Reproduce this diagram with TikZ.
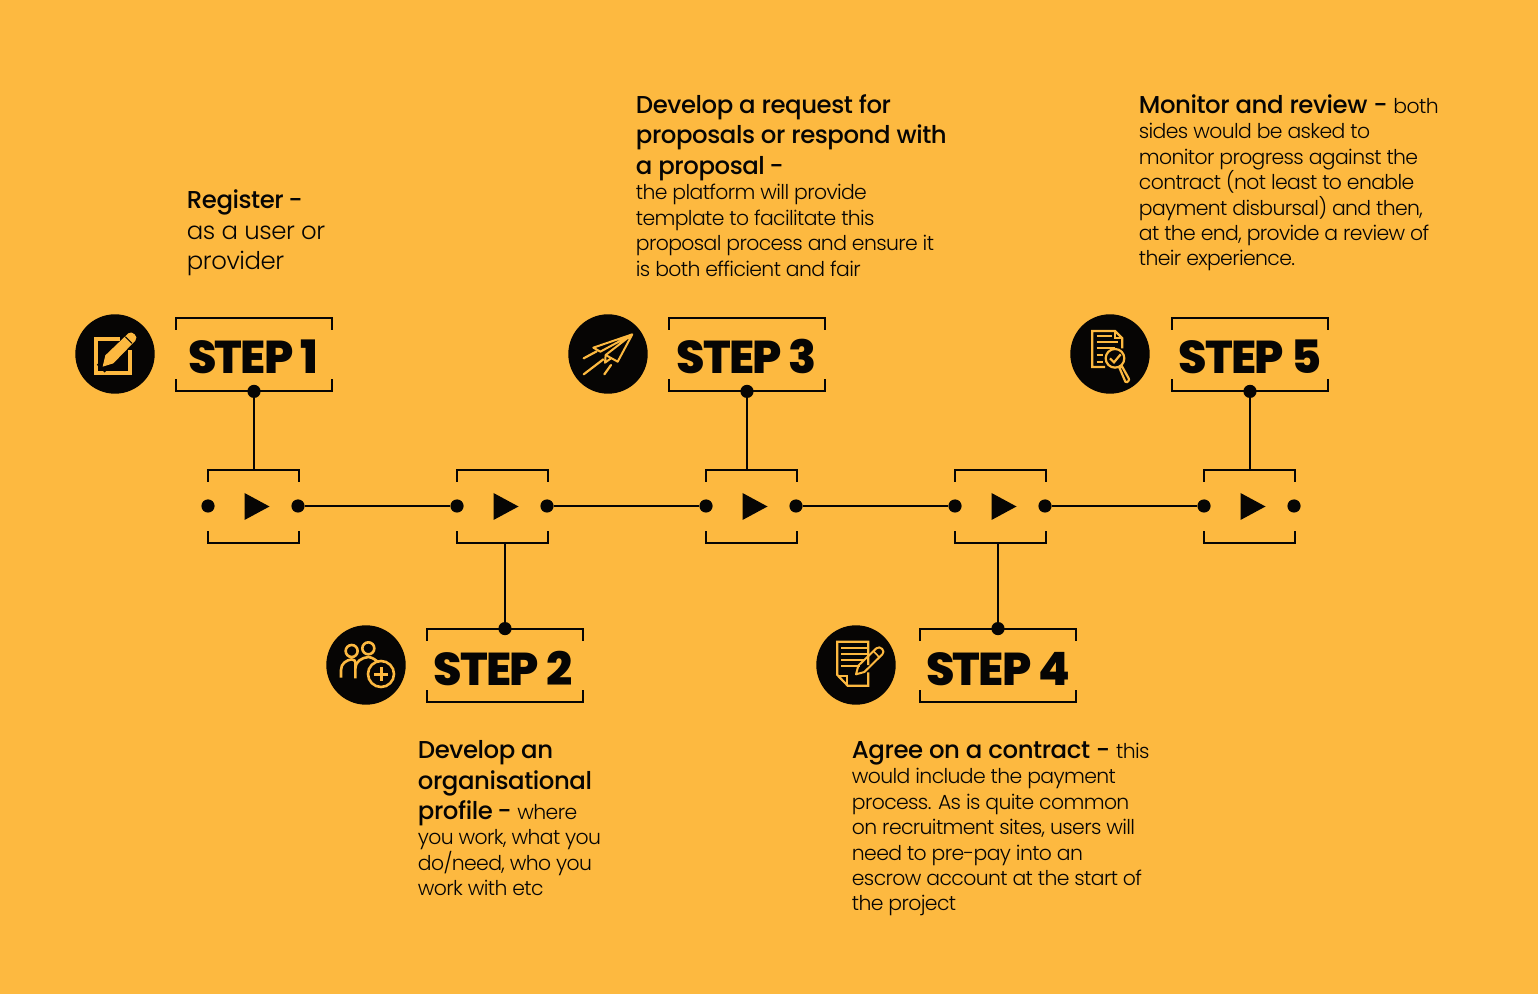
\documentclass[tikz,border=0pt]{standalone}
\usepackage{fontspec}
\setmainfont{Poppins}
\newfontfamily\plight[LetterSpace=-3.1]{Poppins Light}
\newfontfamily\plightb[LetterSpace=-1.8]{Poppins Light}
\newfontfamily\pmedium[LetterSpace=-1.8]{Poppins Medium}
\newfontfamily\pblack[LetterSpace=-4]{Poppins ExtraBold}
\definecolor{bgc}{HTML}{FDB940}
\definecolor{ink}{HTML}{060504}
\newcommand\hd{\pmedium\fontsize{12.2pt}{15.25pt}\selectfont}
\newcommand\bd{\plight\fontsize{10.2pt}{12.7pt}\selectfont}
\newcommand\bg{\plightb\fontsize{12.2pt}{15.25pt}\selectfont}
\newcommand\dsh{\kern-0.7pt-}
\newcommand\blk[1]{\vtop{\hsize=190pt\parindent=0pt\lineskiplimit=-20pt\lineskip=0pt\parskip=0pt #1}}
\tikzset{
  line/.style={draw=ink,line width=1pt},
  dotn/.style={circle,fill=ink,inner sep=0pt,minimum size=6.6pt},
  disc/.style={circle,fill=ink,inner sep=0pt,minimum size=39.7pt},
  txt/.style={anchor=base west,inner sep=0pt,text=ink},
  steplabel/.style={anchor=base,inner sep=0pt,text=ink,font=\pblack\fontsize{23pt}{26pt}\selectfont},
  brk/.style={rectangle,inner sep=0pt,minimum width=78pt,minimum height=36.5pt},
  pbox/.style={rectangle,inner sep=0pt,minimum width=45.5pt,minimum height=36.5pt},
  ic/.style={draw=bgc,line width=1.1pt,line join=miter},
  icon/.style={x=0.16667pt,y=-0.16667pt}
}
\newcommand\brackets[2]{% node name, tick length
  \draw[line] ([yshift=-#2]#1.north west) -- (#1.north west) -- (#1.north east) -- ([yshift=-#2]#1.north east);
  \draw[line] ([yshift=#2]#1.south west) -- (#1.south west) -- (#1.south east) -- ([yshift=#2]#1.south east);
}
\newcommand\playbox[2]{% name, left x
  \node[pbox] (#1) at (#2+46,506.5) {};
  \brackets{#1}{6pt}
  \node[dotn] (#1l) at (#2+0.5,506) {};
  \node[dotn] (#1r) at (#2+90.5,506) {};
  \fill[ink] (#2+37,493) -- (#2+62,506.5) -- (#2+37,520) -- cycle;
}
\begin{document}
\begin{tikzpicture}[x=0.5pt,y=-0.5pt]
\useasboundingbox (0,0) rectangle (1538,994);
\fill[bgc] (0,0) rectangle (1538,994);

% play boxes
\playbox{p1}{207.5}
\playbox{p2}{456.5}
\playbox{p3}{705.5}
\playbox{p4}{954.5}
\playbox{p5}{1203.5}

% step brackets
\node[brk] (s1) at (254,354.5) {};
\node[brk] (s2) at (505,665.5) {};
\node[brk] (s3) at (747,354.5) {};
\node[brk] (s4) at (998,665.5) {};
\node[brk] (s5) at (1250,354.5) {};
\foreach \n in {s1,s2,s3,s4,s5} {\brackets{\n}{6pt}}
\node[steplabel] at (253,374) {STEP 1};
\node[steplabel] at (503,685) {STEP 2};
\node[steplabel] at (746.5,374) {STEP 3};
\node[steplabel] at (998,685) {STEP 4};
\node[steplabel] at (1250,374) {STEP 5};

% dots on brackets
\node[dotn] (d1) at (s1.south) {};
\node[dotn] (d2) at (s2.north) {};
\node[dotn] (d3) at (s3.south) {};
\node[dotn] (d4) at (s4.north) {};
\node[dotn] (d5) at (s5.south) {};
\coordinate (t1) at (254,470);
\coordinate (t2) at (505,543);
\coordinate (t3) at (747,470);
\coordinate (t4) at (998,543);
\coordinate (t5) at (1250,470);
\draw[line] (d1) -- (t1);
\draw[line] (d2) -- (t2);
\draw[line] (d3) -- (t3);
\draw[line] (d4) -- (t4);
\draw[line] (d5) -- (t5);
\draw[line] (p1r) -- (p2l);
\draw[line] (p2r) -- (p3l);
\draw[line] (p3r) -- (p4l);
\draw[line] (p4r) -- (p5l);

% discs
\node[disc] (c1) at (115,354) {};
\node[disc] (c2) at (366,665) {};
\node[disc] (c3) at (608,354) {};
\node[disc] (c4) at (856,665) {};
\node[disc] (c5) at (1110,354) {};

% icon 1
\begin{scope}[shift={(60,300)},icon]
\draw[bgc,line width=1.9pt] (180,118) -- (108,118) -- (108,218) -- (210,218) -- (210,150);
\draw[ink,line width=5.5pt] (122,206) -- (222,106);
\fill[bgc] (128,200) -- (136,166) -- (205,100) .. controls (215,90) and (238,110) .. (226,122) -- (160,190) -- cycle;
\draw[ink,line width=0.5pt] (196,110) -- (216,130);
\end{scope}

% icon 2
\begin{scope}[shift={(310,615)},icon]
\draw[ic,line width=1.3pt] (125,108) circle (18);
\draw[ic,line width=1.3pt] (175,100) circle (18);
\draw[ic,line width=1.3pt] (93,188) -- (93,165) .. controls (93,145) and (110,135) .. (125,133) .. controls (140,135) and (136,145) .. (136,160) -- (136,190);
\draw[ic,line width=1.3pt] (136,160) .. controls (136,140) and (155,128) .. (175,126) .. controls (190,128) and (196,135) .. (203,140);
\draw[ic,line width=1.3pt] (213,177) circle (39);
\draw[ic,line width=1.5pt] (193,177) -- (233,177) (213,157) -- (213,197);
\end{scope}

% icon 3
\begin{scope}[shift={(555,305)},icon]
\draw[ic,line width=1pt,line join=round] (232,88) -- (115,128) -- (136,140) -- (232,88) -- (188,170) -- (152,150) -- (232,88);
\draw[ic,line width=1pt,line join=round] (152,150) -- (150,173) -- (168,160);
\draw[ic,line cap=round] (86,160) -- (125,139);
\draw[ic,line cap=round] (86,208) -- (145,163);
\draw[ic,line cap=round] (148,208) -- (168,180);
\end{scope}

% icon 4
\begin{scope}[shift={(805,615)},icon]
\draw[ic] (190,150) -- (190,80) -- (97,80) -- (97,180) -- (128,212) -- (190,212) -- (190,172);
\draw[ic] (100,182) -- (127,182) -- (127,208);
\draw[ic] (108,100) -- (188,100) (108,118) -- (188,118) (108,136) -- (178,136) (108,154) -- (165,154);
\draw[ic,line width=1pt,line join=round] (153,178) -- (160,152) -- (214,100) .. controls (225,90) and (243,108) .. (232,118) -- (178,171) -- cycle;
\draw[ic,line width=0.8pt] (205,108) -- (224,128);
\end{scope}

% icon 5
\begin{scope}[shift={(1060,305)},icon]
\draw[ic] (187,130) -- (187,100) -- (165,78) -- (97,78) -- (97,186) -- (135,186);
\draw[ic] (165,80) -- (165,100) -- (186,100);
\draw[ic] (110,92) -- (155,92) (110,111) -- (175,111) (110,130) -- (165,130) (110,150) -- (128,150) (110,170) -- (128,170);
\draw[ic] (165,160) circle (28);
\draw[ic] (150,160) -- (162,172) -- (182,148);
\draw[ic] (183,184) -- (179,190) -- (196,230) .. controls (202,235) and (210,225) .. (206,220) -- (186,184) -- cycle;
\end{scope}

% texts
\node[txt] (tx1) at (186.5,209) {\blk{\hd Register \dsh\par\bg as a user or\par provider\par}};
\node[txt] (tx2) at (417.5,758.5) {\blk{\hd Develop an\par organisational\par profile \dsh{} {\bd where}\par\bd you work, what you\par do/need, who you\par work with etc\par}};
\node[txt] (tx3) at (635.5,113.5) {\blk{\hd Develop a request for\par proposals or respond with\par a proposal \dsh\par\bd the platform will provide\par template to facilitate this\par proposal process and ensure it\par is both efficient and fair\par}};
\node[txt] (tx4) at (851.5,758.5) {\blk{\hd Agree on a contract - {\bd this}\par\bd would include the payment\par process. As is quite common\par on recruitment sites, users will\par need to pre-pay into an\par escrow account at the start of\par the project\par}};
\node[txt] (tx5) at (1138.5,113.5) {\blk{\hd Monitor and review - {\bd both}\par\bd sides would be asked to\par monitor progress against the\par contract (not least to enable\par payment disbursal) and then,\par at the end, provide a review of\par their experience.\par}};
\end{tikzpicture}
\end{document}
